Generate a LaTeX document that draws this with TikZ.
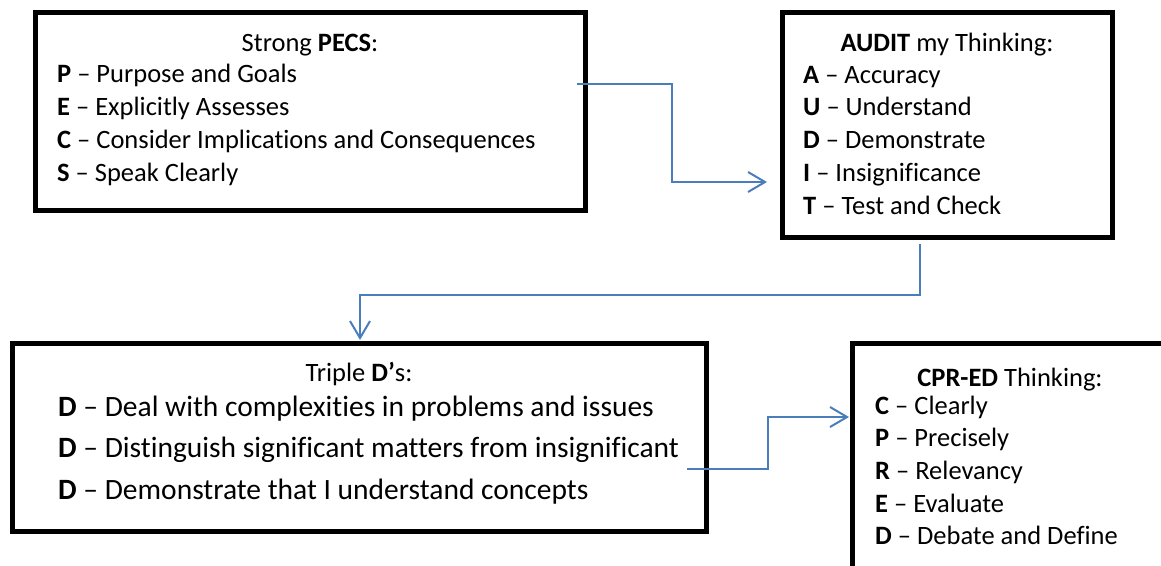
\documentclass[tikz,border=0pt]{standalone}
\usepackage{fontspec}
\setmainfont{Carlito}[Ligatures=NoCommon]
\usetikzlibrary{arrows.meta}
\definecolor{linkblue}{RGB}{74,126,187}
\begin{document}
\begin{tikzpicture}[x=1pt,y=-1pt,
  box/.style={draw=black,line width=5pt,fill=none,inner sep=0pt,outer sep=0pt},
  txt/.style={font=\fontsize{26.5}{32}\selectfont,inner sep=0pt,anchor=base west},
  ttl/.style={font=\fontsize{26.5}{32}\selectfont,inner sep=0pt,anchor=base},
  big/.style={font=\fontsize{29.5}{35}\selectfont,inner sep=0pt,anchor=base west},
  conn/.style={draw=linkblue,line width=2pt,-{Straight Barb[length=17pt,width=20pt]}}]
\useasboundingbox (0,0) rectangle (1161,565);

% boxes
\node[box,minimum width=550pt,minimum height=198pt] (pecs) at (310,111.5) {};
\node[box,minimum width=330pt,minimum height=225pt] (audit) at (947,124.5) {};
\node[box,minimum width=694pt,minimum height=188pt] (triple) at (359,437) {};
\node[box,minimum width=316pt,minimum height=226pt] (cpr) at (1010,456) {};

% PECS text
\node[ttl] (pecsT) at (310,51) {Strong \textbf{PECS}:};
\node[txt] (pecs1) at (57,82) {\textbf{P} – Purpose and Goals};
\node[txt] (pecs2) at (57,115) {\textbf{E} – Explicitly Assesses};
\node[txt] (pecs3) at (57,148) {\textbf{C} – Consider Implications and Consequences};
\node[txt] (pecs4) at (57,181) {\textbf{S} – Speak Clearly};

% AUDIT text
\node[ttl] (auditT) at (947,51) {\textbf{AUDIT} my Thinking:};
\node[txt] (audit1) at (803,83) {\textbf{A} – Accuracy};
\node[txt] (audit2) at (803,115) {\textbf{U} – Understand};
\node[txt] (audit3) at (803,148) {\textbf{D} – Demonstrate};
\node[txt] (audit4) at (803,181) {\textbf{I} – Insignificance};
\node[txt] (audit5) at (803,214) {\textbf{T} – Test and Check};

% Triple D text
\node[ttl] (tripleT) at (359,381) {Triple \textbf{D’}s:};
\node[big] (triple1) at (58,416) {\textbf{D} – Deal with complexities in problems and issues};
\node[big] (triple2) at (58,457) {\textbf{D} – Distinguish significant matters from insignificant};
\node[big] (triple3) at (58,499) {\textbf{D} – Demonstrate that I understand concepts};

% CPR-ED text
\node[ttl] (cprT) at (1010,386) {\textbf{CPR-ED} Thinking:};
\node[txt] (cpr1) at (875,414) {\textbf{C} – Clearly};
\node[txt] (cpr2) at (875,446) {\textbf{P} – Precisely};
\node[txt] (cpr3) at (875,479) {\textbf{R} – Relevancy};
\node[txt] (cpr4) at (875,512) {\textbf{E} – Evaluate};
\node[txt] (cpr5) at (875,544) {\textbf{D} – Debate and Define};

% connector end points
\coordinate (a1s) at (577,84);
\coordinate (a1e) at (767,182);
\coordinate (a2s) at (920,244);
\coordinate (a2e) at (360,340);
\coordinate (a3s) at (687,469);
\coordinate (a3e) at (849,417);

\draw[conn] (a1s) -- ++(95,0) |- (a1e);
\draw[conn] (a2s) -- ++(0,51) -| (a2e);
\draw[conn] (a3s) -- ++(81,0) |- (a3e);
\end{tikzpicture}
\end{document}
